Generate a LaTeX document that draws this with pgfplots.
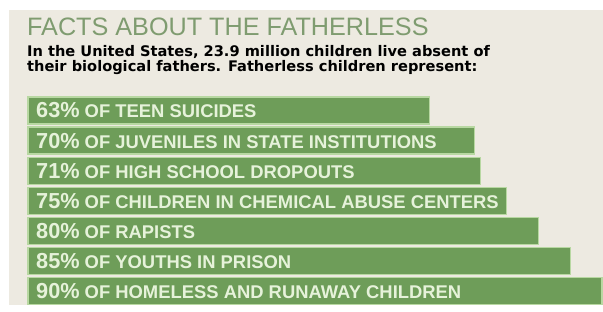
\documentclass[border=0pt]{standalone}
\usepackage{pgfplots}
\pgfplotsset{compat=1.18}
\usepackage{fontspec}
\setmainfont{Liberation Sans}
\newfontfamily\subfont{DejaVu Sans}
\definecolor{bgbeige}{HTML}{EDEAE1}
\definecolor{barfill}{HTML}{6E9D59}
\definecolor{barline}{HTML}{B8D8A2}
\definecolor{bartext}{HTML}{E6F2DA}
\definecolor{titlecol}{HTML}{7F9C70}
\newcommand{\lab}[2]{{\fontsize{21.7}{21.7}\selectfont\bfseries #1\%}{\fontsize{18.4}{18.4}\selectfont\bfseries\ #2}}
\begin{document}
\begin{tikzpicture}
\useasboundingbox (0pt,0pt) rectangle (603pt,311pt);
\fill[white] (0pt,0pt) rectangle (603pt,311pt);
\fill[bgbeige] (9pt,6pt) rectangle (603pt,301pt);
\node[anchor=base west, inner sep=0pt, text=titlecol] at (27pt,275pt) {\fontsize{25.2}{25.2}\selectfont FACTS ABOUT THE FATHERLESS};
\node[anchor=base west, inner sep=0pt] at (27pt,254pt) {\subfont\fontsize{14.6}{14.6}\selectfont\bfseries In the United States, 23.9 million children live absent of};
\node[anchor=base west, inner sep=0pt] at (27pt,239pt) {\subfont\fontsize{14.6}{14.6}\selectfont\bfseries their biological fathers. Fatherless children represent:};
\begin{axis}[
  xshift=28pt, yshift=5pt,
  width=574pt, height=210.6pt, scale only axis,
  xmin=0, xmax=90, ymin=-0.5, ymax=6.5,
  hide axis, clip=false,
  xbar, bar width=27pt,
]
\addplot[fill=barfill, draw=barline, line width=1.2pt, bar shift=0pt]
  coordinates {(63,6) (70,5) (71,4) (75,3) (80,2) (85,1) (90,0)};
\node[anchor=base west, inner sep=0pt, text=bartext, xshift=8pt, yshift=-7.5pt] at (axis cs:0,6) {\lab{63}{OF TEEN SUICIDES}};
\node[anchor=base west, inner sep=0pt, text=bartext, xshift=8pt, yshift=-7.5pt] at (axis cs:0,5) {\lab{70}{OF JUVENILES IN STATE INSTITUTIONS}};
\node[anchor=base west, inner sep=0pt, text=bartext, xshift=8pt, yshift=-7.5pt] at (axis cs:0,4) {\lab{71}{OF HIGH SCHOOL DROPOUTS}};
\node[anchor=base west, inner sep=0pt, text=bartext, xshift=8pt, yshift=-7.5pt] at (axis cs:0,3) {\lab{75}{OF CHILDREN IN CHEMICAL ABUSE CENTERS}};
\node[anchor=base west, inner sep=0pt, text=bartext, xshift=8pt, yshift=-7.5pt] at (axis cs:0,2) {\lab{80}{OF RAPISTS}};
\node[anchor=base west, inner sep=0pt, text=bartext, xshift=8pt, yshift=-7.5pt] at (axis cs:0,1) {\lab{85}{OF YOUTHS IN PRISON}};
\node[anchor=base west, inner sep=0pt, text=bartext, xshift=8pt, yshift=-7.5pt] at (axis cs:0,0) {\lab{90}{OF HOMELESS AND RUNAWAY CHILDREN}};
\end{axis}
\end{tikzpicture}
\end{document}
